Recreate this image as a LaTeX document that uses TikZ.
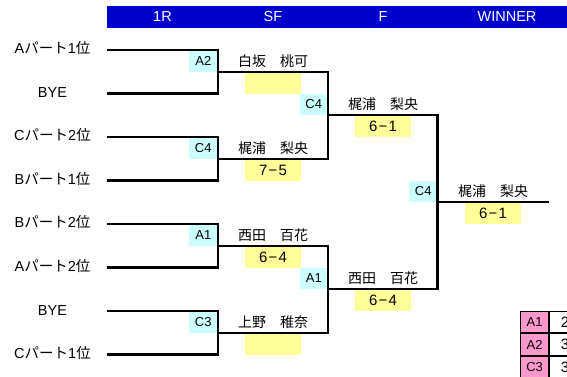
\documentclass[tikz,border=0pt]{standalone}
\usepackage{fontspec}
\setmainfont{Liberation Sans}
\newfontfamily\jp{Noto Sans CJK JP}
\definecolor{hdrblue}{RGB}{0,0,204}
\definecolor{seedcyan}{RGB}{204,255,255}
\definecolor{scoreyellow}{RGB}{255,255,153}
\definecolor{pinkc}{RGB}{255,153,204}
\newcommand{\pt}{{\jp パート}}
\newcommand{\ii}{{\jp 位}}
\newcommand{\sdash}{\kern1.2pt−\kern1.2pt}
\begin{document}
\begin{tikzpicture}[x=1pt,y=-1pt,
  lbl/.style={font=\fontsize{14.5}{15}\selectfont, inner sep=0},
  pname/.style={font=\jp\fontsize{14}{15}\selectfont, inner sep=0},
  seed/.style={fill=seedcyan, minimum width=29pt, minimum height=21.5pt, inner sep=0, font=\fontsize{13}{13}\selectfont, anchor=south east},
  score/.style={fill=scoreyellow, minimum width=56pt, minimum height=22pt, inner sep=0, anchor=north, font=\fontsize{15}{15}\selectfont},
  hdr/.style={text=white, font=\fontsize{14.5}{15}\selectfont, inner sep=0},
  ln/.style={line width=2.2pt, line join=miter},
  cell/.style={draw=black, line width=1.2pt, minimum height=21.5pt, inner sep=0, font=\fontsize{13}{13}\selectfont}
]
\useasboundingbox (0,0) rectangle (567,376);
% header
\node[fill=hdrblue, minimum width=460pt, minimum height=22pt, inner sep=0, anchor=north west] (bar) at (107,6) {};
\node[hdr] (h1) at (162.5,17) {1R};
\node[hdr] (h2) at (273,17) {SF};
\node[hdr] (h3) at (383,17) {F};
\node[hdr] (h4) at (507,17) {WINNER};
% entrants
\node[lbl] (e1) at (52.5,48) {A\pt 1\ii};
\node[lbl] (e2) at (52.5,93) {BYE};
\node[lbl] (e3) at (52.5,135) {C\pt 2\ii};
\node[lbl] (e4) at (52.5,179) {B\pt 1\ii};
\node[lbl] (e5) at (52.5,222) {B\pt 2\ii};
\node[lbl] (e6) at (52.5,266) {A\pt 2\ii};
\node[lbl] (e7) at (52.5,311) {BYE};
\node[lbl] (e8) at (52.5,353) {C\pt 1\ii};
% line start points
\coordinate (l1) at (107,50);
\coordinate (l2) at (107,93.5);
\coordinate (l3) at (107,137);
\coordinate (l4) at (107,180.5);
\coordinate (l5) at (107,224);
\coordinate (l6) at (107,267.5);
\coordinate (l7) at (107,311);
\coordinate (l8) at (107,354.5);
% junctions
\coordinate (j1) at (218,71.75);
\coordinate (j2) at (218,158.75);
\coordinate (j3) at (218,245.75);
\coordinate (j4) at (218,332.75);
\coordinate (f1) at (328,115.25);
\coordinate (f2) at (328,289.25);
\coordinate (w) at (437.5,202.25);
\coordinate (wend) at (549,202.25);
% seed boxes
\node[seed] (s1) at (j1) {A2};
\node[seed] (s2) at (j2) {C4};
\node[seed] (s3) at (j3) {A1};
\node[seed] (s4) at (j4) {C3};
\node[seed, minimum width=28pt] (s5) at (f1) {C4};
\node[seed, minimum width=28pt] (s6) at (f2) {A1};
\node[seed, minimum width=28pt] (s7) at (w) {C4};
% score boxes
\node[score] (c1) at (273,71.75) {};
\node[score] (c2) at (273,158.75) {7\sdash 5};
\node[score] (c3) at (273,245.75) {6\sdash 4};
\node[score] (c4) at (273,332.75) {};
\node[score] (c5) at (383,115.25) {6\sdash 1};
\node[score] (c6) at (383,289.25) {6\sdash 4};
\node[score] (c7) at (493,202.25) {6\sdash 1};
% names
\node[pname] (n1) at (273,61) {白坂　桃可};
\node[pname] (n2) at (273,148) {梶浦　梨央};
\node[pname] (n3) at (273,235) {西田　百花};
\node[pname] (n4) at (273,322) {上野　稚奈};
\node[pname] (n5) at (383,104.5) {梶浦　梨央};
\node[pname] (n6) at (383,278.5) {西田　百花};
\node[pname] (n7) at (493,191.5) {梶浦　梨央};
% bracket lines
\draw[ln] (l1) -| (j1);
\draw[ln] (l2) -| (j1);
\draw[ln] (l3) -| (j2);
\draw[ln] (l4) -| (j2);
\draw[ln] (l5) -| (j3);
\draw[ln] (l6) -| (j3);
\draw[ln] (l7) -| (j4);
\draw[ln] (l8) -| (j4);
\draw[ln] (j1) -| (f1);
\draw[ln] (j2) -| (f1);
\draw[ln] (j3) -| (f2);
\draw[ln] (j4) -| (f2);
\draw[ln] (f1) -| (w);
\draw[ln] (f2) -| (w);
\draw[ln] (w) -- (wend);
% table
\node[cell, fill=pinkc, minimum width=28pt, anchor=north west] (t1) at (520,310.5) {A1};
\node[cell, fill=pinkc, minimum width=28pt, anchor=north] (t2) at (t1.south) {A2};
\node[cell, fill=pinkc, minimum width=28pt, anchor=north] (t3) at (t2.south) {C3};
\node[cell, fill=white, minimum width=30pt, text width=8pt, align=left, inner xsep=11pt, anchor=west, font=\fontsize{15}{15}\selectfont] (v1) at (t1.east) {2};
\node[cell, fill=white, minimum width=30pt, text width=8pt, align=left, inner xsep=11pt, anchor=west, font=\fontsize{15}{15}\selectfont] (v2) at (t2.east) {3};
\node[cell, fill=white, minimum width=30pt, text width=8pt, align=left, inner xsep=11pt, anchor=west, font=\fontsize{15}{15}\selectfont] (v3) at (t3.east) {3};
\end{tikzpicture}
\end{document}
